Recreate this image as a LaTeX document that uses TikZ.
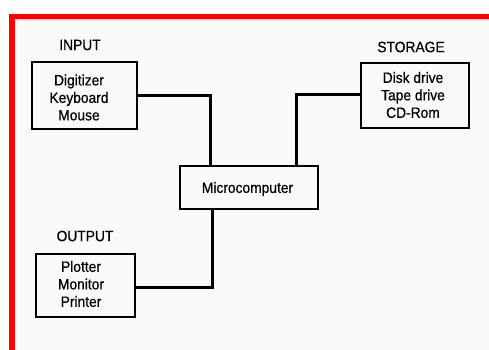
\documentclass[tikz,border=0pt]{standalone}
\usepackage{fontspec}
\setmainfont{Liberation Sans}[FakeStretch=0.92,FakeBold=0.6]
\definecolor{bg}{HTML}{FAFAFA}
\definecolor{redframe}{HTML}{FF0000}
\begin{document}
\begin{tikzpicture}[x=1pt,y=-1pt,
  box/.style={draw=black,line width=2pt,fill=bg,inner sep=0pt},
  lbl/.style={font=\fontsize{15}{17}\selectfont,inner sep=0pt,anchor=center},
  txt/.style={font=\fontsize{15}{17.5}\selectfont,inner sep=0pt,align=center,anchor=center},
  wire/.style={line width=3pt,line join=miter}]
\useasboundingbox (0,0) rectangle (489,350);
\fill[white] (0,0) rectangle (489,350);
\fill[bg] (15,19) rectangle (489,350);
\fill[redframe] (9,14) rectangle (489,19);
\fill[redframe] (9,14) rectangle (15,350);
% boxes
\node[box,minimum width=105pt,minimum height=67pt] (inp) at (84.5,95.5) {};
\node[box,minimum width=108pt,minimum height=65pt] (sto) at (415,95.5) {};
\node[box,minimum width=138pt,minimum height=43pt] (mic) at (249,187.5) {};
\node[box,minimum width=99pt,minimum height=63pt] (out) at (85.5,285.5) {};
% titles
\node[lbl] (tin) at (80,45) {INPUT};
\node[lbl] (tst) at (411,47) {STORAGE};
\node[lbl] (tout) at (85,236) {OUTPUT};
% texts
\node[txt] (xin) at (79,97.5) {Digitizer\\Keyboard\\Mouse};
\node[txt] (xst) at (413,95) {Disk drive\\Tape drive\\CD-Rom};
\node[lbl] (xmic) at (247.5,189) {Microcomputer};
\node[txt] (xout) at (81,284) {Plotter\\Monitor\\Printer};
% connectors
\coordinate (a1) at (210,96);
\coordinate (a2) at (296,95);
\coordinate (a3) at (212,287);
\draw[wire] (inp.east |- a1) -| (a1 |- mic.north);
\draw[wire] (sto.west |- a2) -| (a2 |- mic.north);
\draw[wire] (a3 |- mic.south) |- (out.east |- a3);
\end{tikzpicture}
\end{document}
